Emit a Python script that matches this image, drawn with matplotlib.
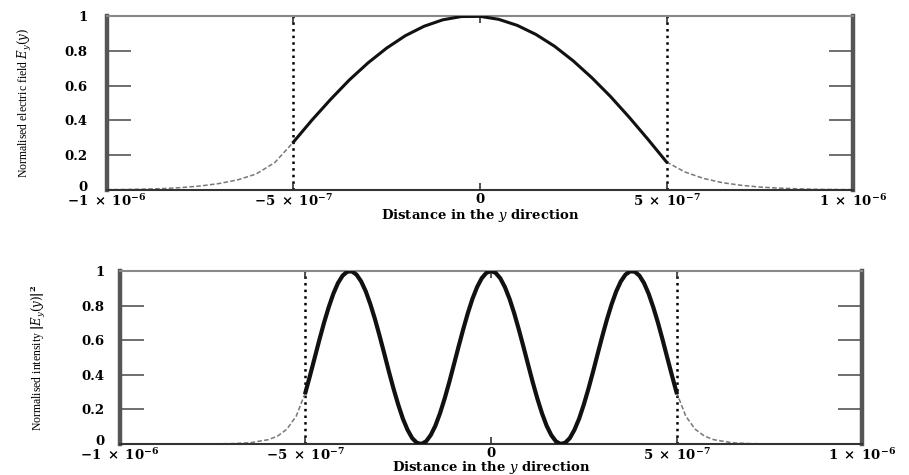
import matplotlib
matplotlib.use('Agg')
import matplotlib.pyplot as plt
from matplotlib.transforms import ScaledTranslation

# field profile inside the guiding layer (units of 1e-6 m)
core_y = [-0.50, -0.45, -0.40, -0.35, -0.30, -0.25, -0.20, -0.15, -0.10, -0.05, 0.00,
          0.05, 0.10, 0.15, 0.20, 0.25, 0.30, 0.35, 0.40, 0.45, 0.50]
core_field = [0.276, 0.403, 0.522, 0.633, 0.731, 0.816, 0.887, 0.941, 0.978, 0.997, 0.998,
              0.981, 0.946, 0.894, 0.826, 0.742, 0.645, 0.537, 0.418, 0.292, 0.161]

# evanescent tails of the field
left_y = [-1.00, -0.95, -0.90, -0.85, -0.80, -0.75, -0.70, -0.65, -0.60, -0.55, -0.50]
left_field = [0.002, 0.003, 0.005, 0.008, 0.014, 0.023, 0.037, 0.058, 0.092, 0.158, 0.276]
right_y = [0.50, 0.55, 0.60, 0.65, 0.70, 0.75, 0.80, 0.85, 0.90, 0.95, 1.00]
right_field = [0.161, 0.103, 0.066, 0.042, 0.027, 0.017, 0.011, 0.007, 0.004, 0.003, 0.002]

# intensity of the higher order mode, sampled every 0.0125e-6 m
core_y2 = [-0.5000, -0.4875, -0.4750, -0.4625, -0.4500, -0.4375, -0.4250, -0.4125,
           -0.4000, -0.3875, -0.3750, -0.3625, -0.3500, -0.3375, -0.3250, -0.3125,
           -0.3000, -0.2875, -0.2750, -0.2625, -0.2500, -0.2375, -0.2250, -0.2125,
           -0.2000, -0.1875, -0.1750, -0.1625, -0.1500, -0.1375, -0.1250, -0.1125,
           -0.1000, -0.0875, -0.0750, -0.0625, -0.0500, -0.0375, -0.0250, -0.0125,
           0.0000, 0.0125, 0.0250, 0.0375, 0.0500, 0.0625, 0.0750, 0.0875,
           0.1000, 0.1125, 0.1250, 0.1375, 0.1500, 0.1625, 0.1750, 0.1875,
           0.2000, 0.2125, 0.2250, 0.2375, 0.2500, 0.2625, 0.2750, 0.2875,
           0.3000, 0.3125, 0.3250, 0.3375, 0.3500, 0.3625, 0.3750, 0.3875,
           0.4000, 0.4125, 0.4250, 0.4375, 0.4500, 0.4625, 0.4750, 0.4875, 0.5000]
core_int = [0.299, 0.398, 0.500, 0.603, 0.701, 0.790, 0.868, 0.930,
            0.973, 0.996, 0.998, 0.979, 0.940, 0.882, 0.807, 0.720,
            0.623, 0.521, 0.417, 0.318, 0.227, 0.146, 0.082, 0.034,
            0.007, 0.000, 0.015, 0.051, 0.105, 0.177, 0.262, 0.357,
            0.459, 0.562, 0.662, 0.756, 0.839, 0.907, 0.958, 0.989,
            1.000, 0.989, 0.958, 0.907, 0.839, 0.756, 0.662, 0.562,
            0.459, 0.357, 0.262, 0.177, 0.105, 0.051, 0.015, 0.000,
            0.007, 0.034, 0.082, 0.146, 0.227, 0.318, 0.417, 0.521,
            0.623, 0.720, 0.807, 0.882, 0.940, 0.979, 0.998, 0.996,
            0.973, 0.930, 0.868, 0.790, 0.701, 0.603, 0.500, 0.398, 0.299]

left_y2 = [-1.000, -0.900, -0.800, -0.700, -0.650, -0.600, -0.575, -0.550, -0.525, -0.500]
left_int = [0.000, 0.000, 0.000, 0.002, 0.007, 0.025, 0.046, 0.086, 0.161, 0.299]
right_y2 = [0.500, 0.525, 0.550, 0.575, 0.600, 0.650, 0.700, 0.800, 0.900, 1.000]
right_int = [0.299, 0.161, 0.086, 0.046, 0.025, 0.007, 0.002, 0.000, 0.000, 0.000]

boundaries = [-0.5, 0.5]
xticks = [-1.0, -0.5, 0.0, 0.5, 1.0]
xtick_labels = [r'$-1\ \times\ 10^{-6}$', r'$-5\ \times\ 10^{-7}$', '0',
                r'$5\ \times\ 10^{-7}$', r'$1\ \times\ 10^{-6}$']
yticks = [0, 0.2, 0.4, 0.6, 0.8, 1]
ytick_labels = ['0', '0.2', '0.4', '0.6', '0.8', '1']

tail_style = dict(color='#777777', linestyle=(0, (3, 1.5)), linewidth=1.1)


def style_axes(fig, ax, ypad, xlabel_y):
    ax.set_xlim(-1, 1)
    ax.set_ylim(0, 1)
    ax.set_xticks(xticks)
    ax.set_xticklabels(xtick_labels)
    ax.set_yticks(yticks)
    ax.set_yticklabels(ytick_labels)
    ax.tick_params(axis='y', direction='in', length=17, width=1.2, color='#555555',
                   left=True, right=True, pad=ypad, labelsize=9.5)
    ax.tick_params(axis='x', direction='in', length=5, width=1.2, color='#333333',
                   top=True, bottom=True, pad=2, labelsize=9.5)
    for side in ['left', 'right']:
        ax.spines[side].set_linewidth(3.2)
        ax.spines[side].set_color('#555555')
    ax.spines['top'].set_linewidth(1.5)
    ax.spines['top'].set_color('#888888')
    ax.spines['bottom'].set_linewidth(1.5)
    ax.spines['bottom'].set_color('#333333')
    for b in boundaries:
        ax.axvline(b, color='black', linestyle=':', linewidth=1.8, zorder=1)
    for lab in ax.get_xticklabels() + ax.get_yticklabels():
        lab.set_fontweight('bold')
    # lift the "0" on the y axis clear of the corner x label
    zero = ax.get_yticklabels()[0]
    zero.set_transform(zero.get_transform() + ScaledTranslation(0, 3 / 72, fig.dpi_scale_trans))
    ax.set_xlabel(r'Distance in the $\mathit{y}$ direction', fontsize=9.5,
                  fontweight='bold', va='center')
    ax.xaxis.set_label_coords(0.5, xlabel_y)


def main():
    plt.rcParams['font.family'] = ['DejaVu Serif']
    plt.rcParams['mathtext.fontset'] = 'dejavuserif'
    plt.rcParams['mathtext.default'] = 'bf'

    fig = plt.figure(figsize=(9.09, 4.75), dpi=100)
    ax1 = fig.add_axes([0.1177, 0.600, 0.8207, 0.3663])
    ax2 = fig.add_axes([0.1320, 0.0653, 0.8163, 0.3642])

    # upper panel: electric field
    ax1.plot(left_y, left_field, **tail_style)
    ax1.plot(right_y, right_field, **tail_style)
    ax1.plot(core_y, core_field, color='#111111', linewidth=2.2, zorder=3)
    style_axes(fig, ax1, 14, -0.145)
    ax1.set_ylabel(r'Normalised electric field $\mathit{E_y(y)}$', fontsize=8.5,
                   family=['Liberation Serif'], va='center')
    ax1.yaxis.set_label_coords(-0.11, 0.5)

    # lower panel: intensity
    ax2.plot(left_y2, left_int, **tail_style)
    ax2.plot(right_y2, right_int, **tail_style)
    ax2.plot(core_y2, core_int, color='#111111', linewidth=3.0, zorder=3)
    style_axes(fig, ax2, 11, -0.138)
    ax2.set_ylabel(r'Normalised intensity $|\mathit{E_y(y)}|^2$', fontsize=8.5,
                   family=['Liberation Serif'], va='center')
    ax2.yaxis.set_label_coords(-0.11, 0.5)

    fig.savefig('out.png', dpi=100)


if __name__ == "__main__":
    main()
